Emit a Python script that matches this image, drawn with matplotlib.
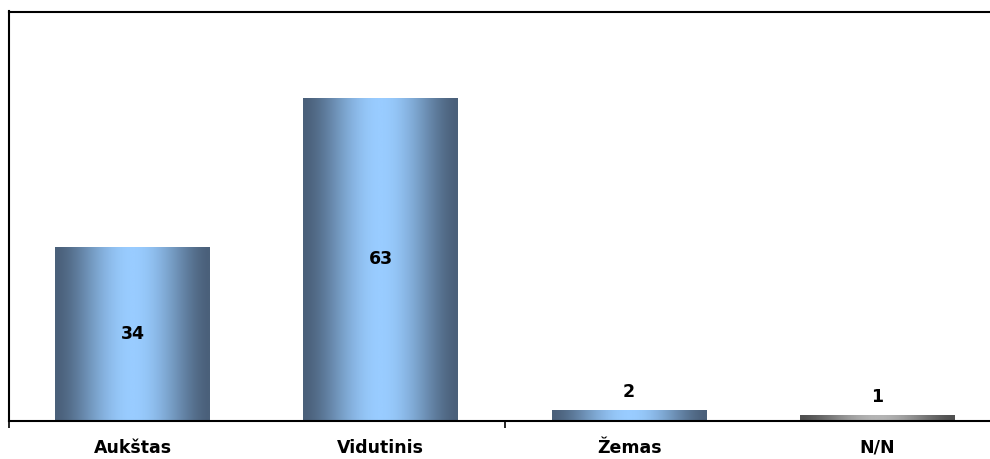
import numpy as np
import matplotlib
matplotlib.use("Agg")
import matplotlib.pyplot as plt
from matplotlib.colors import LinearSegmentedColormap

categories = ["Aukštas", "Vidutinis", "Žemas", "N/N"]
values = [34, 63, 2, 1]
inside_label = [True, True, False, False]
bar_palettes = [
    ("#4A607A", "#99CCFF"),
    ("#4A607A", "#99CCFF"),
    ("#4A607A", "#99CCFF"),
    ("#4F4F4F", "#B4B4B4"),
]

W, H = 990, 459
fig = plt.figure(figsize=(W / 100, H / 100), dpi=100)
ax = fig.add_axes([8.5 / W, 38.5 / H, 993 / W, 409 / H])
ax.set_xlim(-0.5, 3.5)
ax.set_ylim(0, 80)

x = np.arange(len(categories))
bars = ax.bar(x, values, width=0.624, color="none", edgecolor="none", zorder=2)

# horizontal shading: dark at the edges, light in the middle
t = np.linspace(0, 1, 256)
profile = np.sin(np.pi * t) ** 1.6
for bar, (dark, light) in zip(bars, bar_palettes):
    cmap = LinearSegmentedColormap.from_list("shade", [dark, light])
    x0, y0 = bar.get_x(), bar.get_y()
    w, h = bar.get_width(), bar.get_height()
    im = ax.imshow(profile[np.newaxis, :], cmap=cmap, vmin=0, vmax=1,
                   extent=[x0, x0 + w, y0, y0 + h], aspect="auto",
                   interpolation="bilinear", zorder=2)
    im.set_clip_path(bar)

for xi, v, inside in zip(x, values, inside_label):
    if inside:
        ax.text(xi, v / 2, str(v), ha="center", va="center",
                fontsize=12.5, fontweight="bold", color="black", zorder=3)
    else:
        ax.annotate(str(v), (xi, v), xytext=(0, 7), textcoords="offset points",
                    ha="center", va="bottom", fontsize=12.5, fontweight="bold",
                    color="black", zorder=3)

for side in ["left", "top", "bottom"]:
    ax.spines[side].set_linewidth(1.5)
    ax.spines[side].set_color("black")
ax.spines["right"].set_visible(False)

ax.set_yticks([])
ax.set_xticks([-0.5, 1.5, 3.5])
ax.set_xticklabels([])
ax.tick_params(axis="x", which="major", direction="out", length=5, width=1.2, color="black")
ax.set_xticks(x, minor=True)
ax.set_xticklabels(categories, minor=True, fontsize=12.5, fontweight="bold")
ax.tick_params(axis="x", which="minor", length=0, pad=13)

fig.savefig("out.png", dpi=100, facecolor="white")
